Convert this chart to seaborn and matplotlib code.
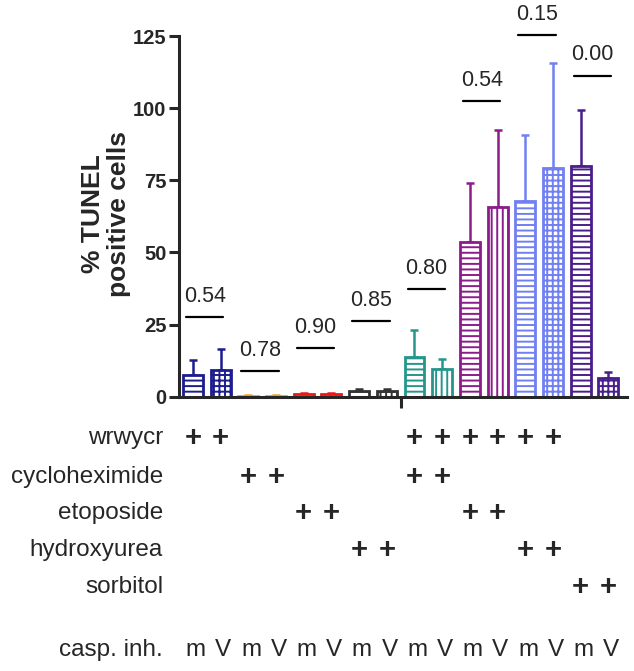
import numpy as np
import pandas as pd
import matplotlib
matplotlib.use("Agg")
import matplotlib.pyplot as plt
import matplotlib.transforms as mtransforms
import seaborn as sns

sns.set_style("ticks")
plt.rcParams['font.family'] = ['Liberation Sans', 'DejaVu Sans']
plt.rcParams['hatch.linewidth'] = 1.4

# ============================================
# DATA
# ============================================
casp_inh = ['m', 'V'] * 8
means = [7.5, 9.2, 0.3, 0.3, 1.0, 1.0, 2.0, 2.0,
         13.9, 9.5, 53.7, 65.9, 67.9, 79.2, 79.8, 6.4]
errors = [5.2, 7.2, 0.2, 0.2, 0.3, 0.3, 0.5, 0.5,
          9.2, 3.6, 20.5, 26.6, 22.8, 36.4, 19.6, 2.1]
pair_colors = ['#1c1c8e', '#f0a030', '#ee1515', '#333333',
               '#25968b', '#8c1c8c', '#7080f2', '#4a1e8a']
v_hatches = ['+++', '+++', '+++', '+++', '|||', '|||', '+++', '+++']
p_values = ['0.54', '0.78', '0.90', '0.85', '0.80', '0.54', '0.15', '0.00']
p_heights = [27.5, 8.9, 16.8, 26.2, 37.3, 102.5, 125.4, 111.2]

treatments = ['wrwycr', 'cycloheximide', 'etoposide', 'hydroxyurea', 'sorbitol']
treatment_pairs = [[0, 4, 5, 6], [1, 4], [2, 5], [3, 6], [7]]

df = pd.DataFrame({'pos': np.arange(16), 'mean': means, 'err': errors,
                   'casp': casp_inh})
df['pair'] = df['pos'] // 2
df['color'] = [pair_colors[p] for p in df['pair']]
df['hatch'] = ['---' if c == 'm' else v_hatches[p] for c, p in zip(df['casp'], df['pair'])]

# ============================================
# FIGURE
# ============================================
W, H = 634, 671
fig = plt.figure(figsize=(W / 100, H / 100), dpi=100)
ax = fig.add_axes([179 / W, 1 - 396.7 / H, (627 - 179) / W, (396.7 - 36) / H])

sns.barplot(data=df, x='pos', y='mean', hue='pos', palette=list(df['color']),
            legend=False, width=0.72, errorbar=None, ax=ax)

bars = sorted([p for p in ax.patches if p.get_width() > 0], key=lambda p: p.get_x())
for bar, (_, row) in zip(bars, df.iterrows()):
    bar.set_facecolor('white')
    bar.set_edgecolor(row['color'])
    bar.set_linewidth(2.0)
    bar.set_hatch(row['hatch'])
    bar.set_zorder(3)

for _, row in df.iterrows():
    ax.errorbar(row['pos'], row['mean'], yerr=[[0], [row['err']]],
                color=row['color'], elinewidth=1.8, capsize=3.2, capthick=1.8,
                zorder=2)

# p-value brackets
for k, (lab, h) in enumerate(zip(p_values, p_heights)):
    x0 = 2 * k - 0.25
    x1 = 2 * k + 1.1
    ax.plot([x0, x1], [h, h], color='black', lw=1.6, clip_on=False, zorder=4)
    ax.annotate(lab, xy=((x0 + x1) / 2, h), xytext=(0, 15), textcoords='offset points',
                ha='center', va='center', fontsize=15.5, annotation_clip=False)

ax.set_xlim(-0.5, 15.67)
ax.set_ylim(0, 125)
ax.set_yticks([0, 25, 50, 75, 100, 125])
ax.set_yticklabels(['0', '25', '50', '75', '100', '125'], fontweight='bold', fontsize=14.5)
ax.set_xticks([7.5])
ax.set_xticklabels([''])
ax.tick_params(axis='y', length=7, width=2.2, pad=2)
ax.tick_params(axis='x', length=8, width=2.2)
ax.set_xlabel('')
ax.set_ylabel('')
sns.despine(ax=ax)
for s in ['left', 'bottom']:
    ax.spines[s].set_linewidth(2.2)
    ax.spines[s].set_zorder(5)

fig.text(106 / W, 1 - 214 / H, '% TUNEL\npositive cells', rotation=90, ha='center',
         va='center', fontsize=19, fontweight='bold', linespacing=1.1)

# treatment table under the axis
trans = mtransforms.blended_transform_factory(ax.transData, fig.transFigure)
row_y = [438, 477, 513, 550, 587]
for name, pairs, y in zip(treatments, treatment_pairs, row_y):
    fig.text(163 / W, 1 - y / H, name, ha='right', va='center', fontsize=17.5)
    for p in pairs:
        for pos in (2 * p, 2 * p + 1):
            ax.text(pos, 1 - y / H, '+', transform=trans, ha='center', va='center',
                    fontsize=21, fontweight='bold')

fig.text(163 / W, 1 - 650 / H, 'casp. inh.', ha='right', va='center', fontsize=17.5)
for pos, c in zip(df['pos'], df['casp']):
    ax.text(pos + 0.1, 1 - 650 / H, c, transform=trans, ha='center', va='center',
            fontsize=17.5)

plt.savefig('out.png', dpi=100)
